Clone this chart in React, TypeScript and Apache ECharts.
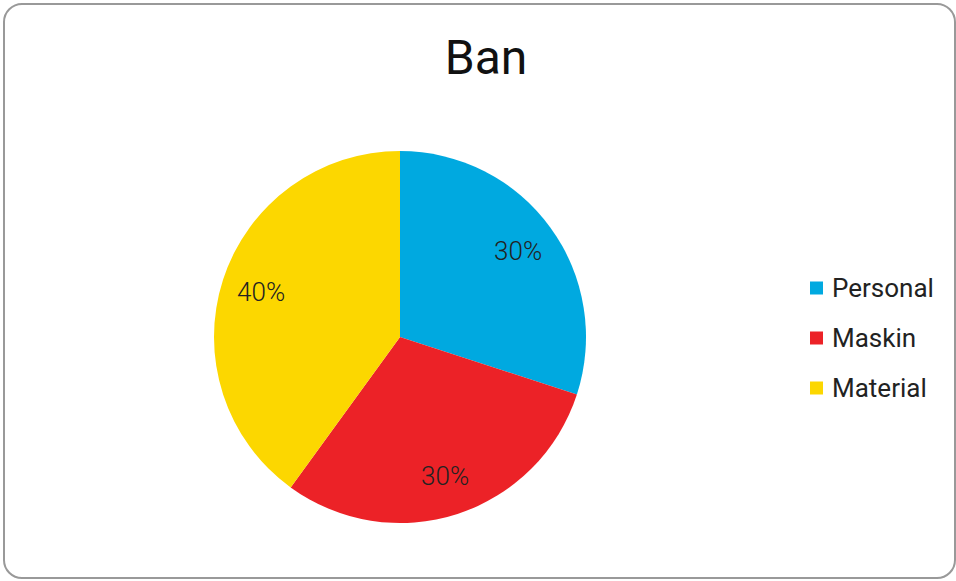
import React, { useEffect, useRef } from "react";
import * as echarts from "echarts";

const categories = ["Personal", "Maskin", "Material"];
const values = [30, 30, 40];
const colors = ["#00A9E0", "#EC2227", "#FCD700"];
const titleText = "Ban";

export default function App() {
  const ref = useRef<HTMLDivElement>(null);
  useEffect(() => {
    if (!ref.current) return;
    const chart = echarts.init(ref.current, undefined, { renderer: "svg" });
    const data = categories.map((name, i) => ({ name, value: values[i] }));
    const font = "Roboto, 'DejaVu Sans', sans-serif";
    chart.setOption({
      animation: false,
      color: colors,
      title: {
        text: titleText,
        left: 481,
        top: 28,
        textAlign: "center",
        textStyle: { fontFamily: font, fontSize: 48, fontWeight: "normal", color: "#111" },
      },
      graphic: [
        {
          type: "rect",
          shape: { x: 4, y: 4, width: 951, height: 574, r: 18 },
          style: { fill: "none", stroke: "#999", lineWidth: 2 },
          silent: true,
        },
      ],
      legend: {
        orient: "vertical",
        left: 805,
        top: 270,
        itemWidth: 13,
        itemHeight: 13,
        itemGap: 24,
        icon: "rect",
        data: categories,
        textStyle: {
          fontFamily: font,
          fontSize: 26,
          color: "#222",
          lineHeight: 26,
          padding: [0, 0, 0, 4],
        },
      },
      series: [
        {
          type: "pie",
          center: [400, 337],
          radius: [0, 186],
          startAngle: 90,
          clockwise: true,
          data,
          label: { show: false },
          labelLine: { show: false },
          emphasis: { disabled: true },
        },
        {
          type: "pie",
          center: [400, 337],
          radius: [100, 186],
          startAngle: 90,
          clockwise: true,
          silent: true,
          legendHoverLink: false,
          data,
          itemStyle: { color: "transparent" },
          label: {
            show: true,
            position: "inside",
            formatter: (p: any) => `${Math.round(p.percent)}%`,
            fontFamily: font,
            fontSize: 26,
            fontWeight: 300,
            color: "#222",
          },
          labelLine: { show: false },
          emphasis: { disabled: true },
        },
      ],
    });
    return () => chart.dispose();
  }, []);
  return (
    <div
      ref={ref}
      style={{ position: "fixed", left: 0, top: 0, width: 956, height: 581, background: "#fff" }}
    />
  );
}
